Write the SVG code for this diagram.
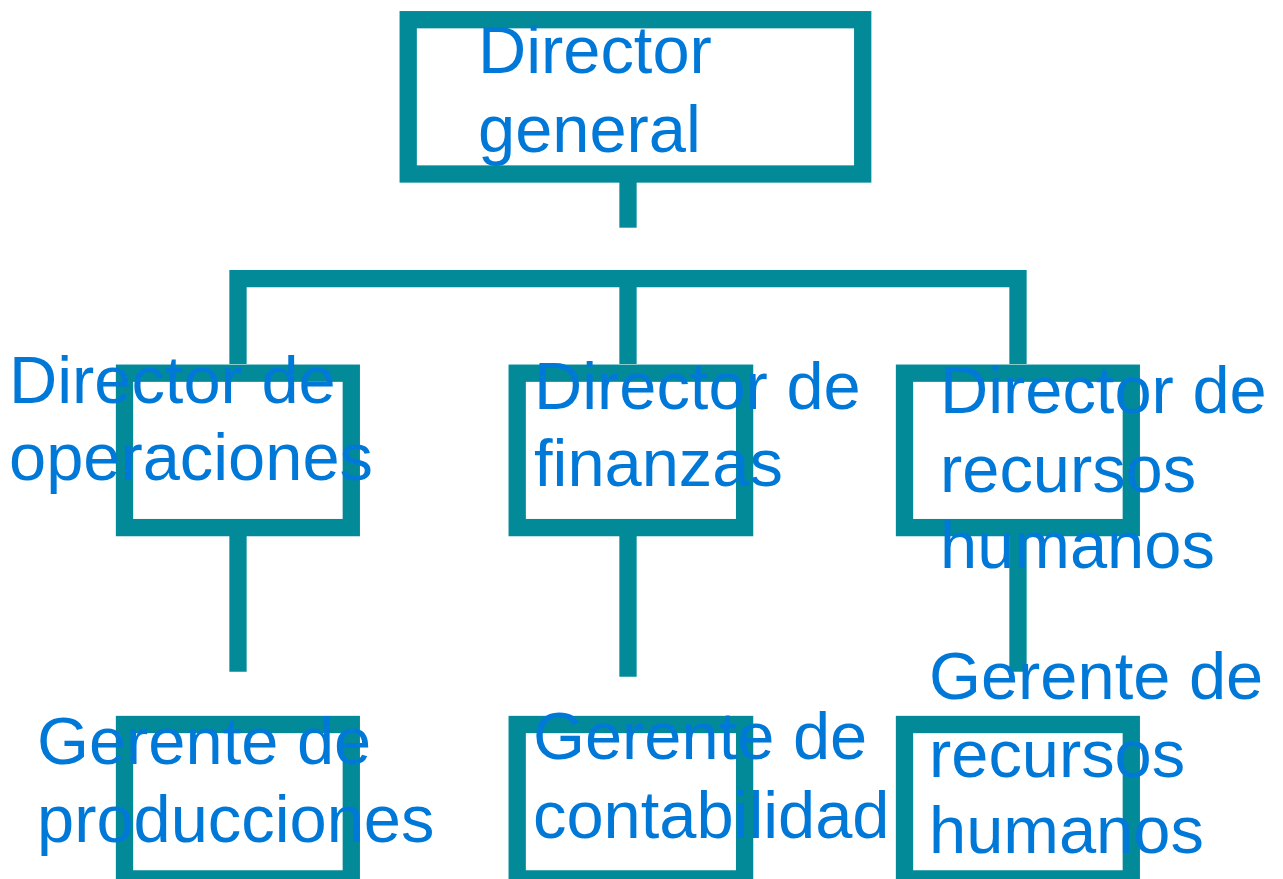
<svg xmlns="http://www.w3.org/2000/svg" width="1283" height="879" viewBox="0 0 1283 879">
<style>
.box{fill:none;stroke:#028A99;stroke-width:17.3}
.con{fill:none;stroke:#028A99;stroke-width:17.3;stroke-linecap:butt;stroke-linejoin:miter}
.t{font-family:"Liberation Sans",Arial,sans-serif;font-size:66.8px;fill:#0078D7}
</style>
<rect width="1283" height="879" fill="#fff"/>
<g id="connectors">
<path class="con" d="M628 182 V227.7"/>
<path class="con" d="M238 364 V278.7 H1018 V364"/>
<path class="con" d="M628 278.7 V364"/>
<path class="con" d="M238 536 V671.7"/>
<path class="con" d="M628 536 V676.7"/>
<path class="con" d="M1018 536 V671.7"/>
</g>
<g id="director-general">
<rect class="box" x="408.2" y="19.7" width="454.5" height="154.3"/>
<text class="t" x="478" y="72.7">Director</text>
<text class="t" x="478" y="151.7">general</text>
</g>
<g id="director-operaciones">
<rect class="box" x="124.5" y="373.2" width="226.8" height="154.4"/>
<text class="t" x="9" y="402.7">Director de</text>
<text class="t" x="9" y="480">operaciones</text>
</g>
<g id="director-finanzas">
<rect class="box" x="517.2" y="373.2" width="227.4" height="154.4"/>
<text class="t" x="534" y="409.3">Director de</text>
<text class="t" x="534" y="486">finanzas</text>
</g>
<g id="director-rrhh">
<rect class="box" x="904.5" y="373.2" width="226.8" height="154.4"/>
<text class="t" x="940" y="413.3">Director de</text>
<text class="t" x="940" y="491.7">recursos</text>
<text class="t" x="940" y="568.3">humanos</text>
</g>
<g id="gerente-producciones">
<rect class="box" x="124.5" y="724.5" width="226.8" height="154.4"/>
<text class="t" x="37" y="764">Gerente de</text>
<text class="t" x="37" y="841.7">producciones</text>
</g>
<g id="gerente-contabilidad">
<rect class="box" x="517.2" y="724.5" width="227.4" height="154.4"/>
<text class="t" x="533" y="759.3">Gerente de</text>
<text class="t" x="533" y="837.7">contabilidad</text>
</g>
<g id="gerente-rrhh">
<rect class="box" x="904.5" y="724.5" width="226.8" height="154.4"/>
<text class="t" x="929" y="699.3">Gerente de</text>
<text class="t" x="929" y="776.7">recursos</text>
<text class="t" x="929" y="853.3">humanos</text>
</g>
</svg>
